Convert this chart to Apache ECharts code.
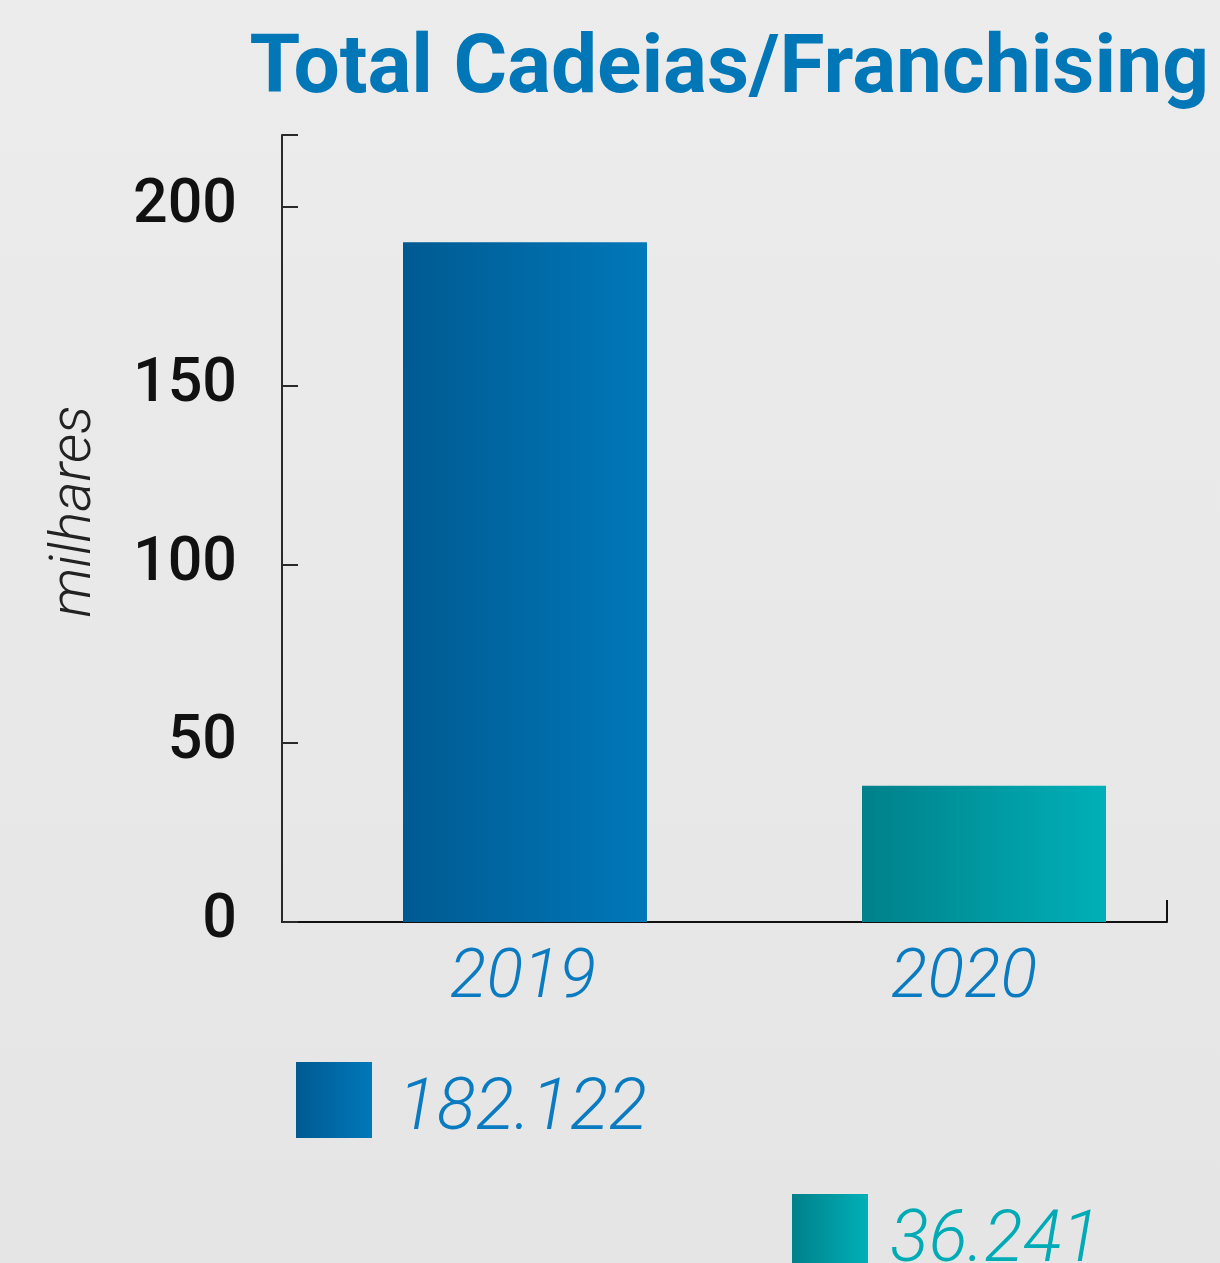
<!DOCTYPE html>
<html>
<head>
<meta charset="utf-8">
<script src="https://cdn.jsdelivr.net/npm/echarts@6/dist/echarts.min.js"></script>
<style>
  html, body { margin: 0; padding: 0; }
  #chart { width: 1220px; height: 1263px; }
</style>
</head>
<body>
<div id="chart"></div>
<script>
const years = ['2019', '2020'];
const values = [190, 38.1];
const totals = ['182.122', '36.241'];
const yTicks = [0, 50, 100, 150, 200];
const yMax = 220;

const barColors = [
  ['#005a92', '#0078b9'],
  ['#00808a', '#00b0b8'],
];
const textColors = ['#0a7bc0', '#00abb5'];

// x range chosen so the bars sit where they do in the picture
const xMin = 2019 - 243 / 459;
const xMax = 2020 + 183 / 459;
// year labels are not quite centred under the bars in the original
const labelPos = [2019 - 2 / 459, 2020 - 20 / 459];

function hGrad(c) {
  return new echarts.graphic.LinearGradient(0, 0, 1, 0, [
    { offset: 0, color: c[0] },
    { offset: 1, color: c[1] }
  ]);
}

const chart = echarts.init(document.getElementById('chart'));

const option = {
  backgroundColor: new echarts.graphic.LinearGradient(0, 0, 0, 1, [
    { offset: 0, color: '#ececec' },
    { offset: 1, color: '#e5e5e5' }
  ]),
  title: {
    text: 'Total Cadeias/Franchising',
    right: 6,
    top: 25,
    textStyle: {
      fontFamily: 'Roboto',
      fontWeight: 700,
      fontSize: 82,
      lineHeight: 82,
      color: '#0277b8'
    }
  },
  grid: {
    left: 282,
    right: 53,
    top: 135,
    bottom: 341
  },
  xAxis: {
    type: 'value',
    min: xMin,
    max: xMax,
    splitLine: { show: false },
    axisLine: { show: true, lineStyle: { color: '#111', width: 2 } },
    axisTick: {
      show: true,
      inside: true,
      length: 22,
      customValues: [xMax],
      lineStyle: { color: '#111', width: 2 }
    },
    axisLabel: {
      customValues: labelPos,
      formatter: v => years[years.indexOf(String(Math.round(v)))],
      margin: 24,
      fontFamily: 'Roboto',
      fontStyle: 'italic',
      fontWeight: 300,
      fontSize: 68,
      lineHeight: 68,
      color: '#0a7bc0'
    }
  },
  yAxis: {
    type: 'value',
    min: 0,
    max: yMax,
    name: 'milhares',
    nameLocation: 'middle',
    nameRotate: 90,
    nameGap: 178,
    nameTextStyle: {
      fontFamily: 'Roboto',
      fontStyle: 'italic',
      fontWeight: 300,
      fontSize: 58,
      color: '#222',
      padding: [0, 0, 0, 34]
    },
    splitLine: { show: false },
    axisLine: { show: true, lineStyle: { color: '#2a2a2a', width: 2 } },
    axisTick: {
      show: true,
      inside: true,
      length: 16,
      customValues: yTicks.concat([yMax]),
      lineStyle: { color: '#2a2a2a', width: 2 }
    },
    axisLabel: {
      customValues: yTicks,
      margin: 45,
      fontFamily: 'Roboto',
      fontWeight: 500,
      fontSize: 61,
      lineHeight: 61,
      padding: [16, 0, 0, 0],
      color: '#111'
    }
  },
  series: [
    {
      type: 'bar',
      barWidth: 244,
      data: values.map((v, i) => ({
        value: [Number(years[i]), v],
        itemStyle: { color: hGrad(barColors[i]) }
      }))
    }
  ],
  graphic: [
    {
      type: 'rect',
      shape: { x: 296, y: 1062, width: 76, height: 76 },
      style: { fill: hGrad(barColors[0]) }
    },
    {
      type: 'text',
      style: {
        x: 398, y: 1111,
        text: totals[0],
        verticalAlign: 'middle',
        font: 'italic 300 72px Roboto',
        fill: textColors[0]
      }
    },
    {
      type: 'rect',
      shape: { x: 792, y: 1194, width: 76, height: 76 },
      style: { fill: hGrad(barColors[1]) }
    },
    {
      type: 'text',
      style: {
        x: 890, y: 1243,
        text: totals[1],
        verticalAlign: 'middle',
        font: 'italic 300 72px Roboto',
        fill: textColors[1]
      }
    }
  ]
};

chart.setOption(option);
</script>
</body>
</html>
